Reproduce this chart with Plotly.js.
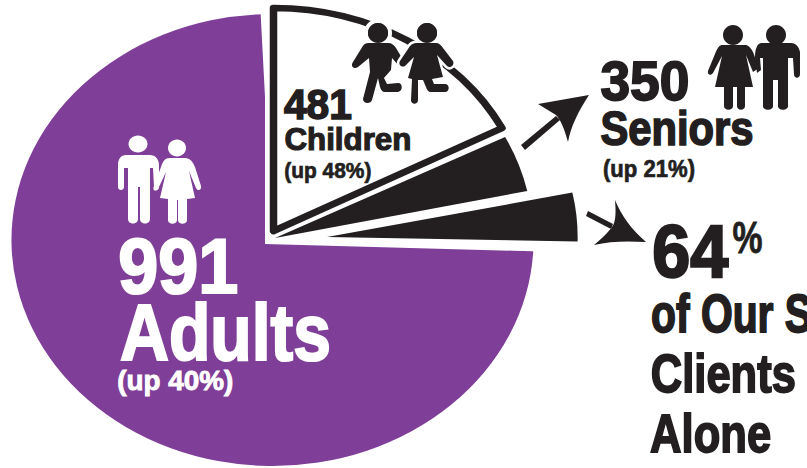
<!DOCTYPE html>
<html><head><meta charset="utf-8">
<script src="https://cdn.plot.ly/plotly-3.0.1.min.js"></script>
<style>html,body{margin:0;padding:0;background:#fff;overflow:hidden}#c{width:807px;height:468px}</style>
</head><body><div id="c"></div>
<script>
// Data
const categories = ['Adults','Children','Seniors','Senior clients'];
const counts = [991,481,350];
const rises = ['(up 40%)','(up 48%)','(up 21%)'];
const sharePct = [73.5,17.36,4.1,3.6];      // visible slice sweep, % of the full turn
const startDeg = [92.8,0,63.1,78.2];        // clockwise from 12 o'clock
const cutPct = 25.5;                        // white notch cut out of the purple disc

const W=807,H=468, ASPECT=1.155, K=1.3, TX=-100;
const SX=ASPECT*K, SY=K;
const PURPLE='#7f3f98', INK='#231f20';

function dom(cx,cy,ry){const r=ry/SY,u=(cx-TX)/SX,v=cy/SY;
  return {x:[(u-r)/W,(u+r)/W],y:[1-(v+r)/H,1-(v-r)/H]};}
function wedge(name,pct,rot,col,cx,cy,ry,lw,lc){
  return {type:'pie',name,labels:[name,' '],values:[pct,100-pct],sort:false,direction:'clockwise',rotation:rot,
    textinfo:'none',hoverinfo:'skip',showlegend:false,domain:dom(cx,cy,ry),
    marker:{colors:[col,'rgba(0,0,0,0)'],line:{color:[lc||col,'rgba(0,0,0,0)'],width:[lw||0,0]}}};}
const traces=[
  wedge(categories[0],sharePct[0],startDeg[0],PURPLE,272.5,240,226),
  wedge('notch',cutPct,0,'#ffffff',265,244,238),
  wedge(categories[1],sharePct[1],startDeg[1],'#ffffff',273.5,231,223,5,INK),
  wedge(categories[2],sharePct[2],startDeg[2],INK,275,238,223.4),
  wedge(categories[3],sharePct[3],startDeg[3],INK,327,237,217)
];

// px -> paper helper for decoration paths
const px=d=>d.replace(/(-?[\d.]+)[ ,]+(-?[\d.]+)/g,(m,a,b)=>(a/W).toFixed(5)+','+(1-b/H).toFixed(5));
function blob(d,col,halo){const out=[];
  if(halo)out.push({type:'path',xref:'paper',yref:'paper',layer:'above',path:px(d),fillcolor:'#fff',line:{color:'#fff',width:halo}});
  out.push({type:'path',xref:'paper',yref:'paper',layer:'above',path:px(d),fillcolor:col,line:{width:0}});return out;}
function headPath(x,y,a,b){const c=.5523;return `M${x-a} ${y} C${x-a} ${y-b*c} ${x-a*c} ${y-b} ${x} ${y-b} C${x+a*c} ${y-b} ${x+a} ${y-b*c} ${x+a} ${y} C${x+a} ${y+b*c} ${x+a*c} ${y+b} ${x} ${y+b} C${x-a*c} ${y+b} ${x-a} ${y+b*c} ${x-a} ${y} Z`;}

// Adults icon
const adultMan='M126 155 L150 155 C155 155 159 159 159 165 L159 187 C159 191 154 191 154 187 L153 168 L150 168 L150 219 C150 225 140 225 140 219 L140 187 L138 187 L138 219 C138 225 128 225 128 219 L128 168 L124 168 L124 187 C124 191 118 191 118 187 L118 165 C118 159 121 155 126 155 Z';
const adultWoman='M170 158 L185 158 C190 158 193 162 195 167 L201 186 C202 191 197 191 196 188 L189 171 L195 198 L187 199 L187 220 C187 225 178 225 178 220 L178 200 L177 200 L177 220 C177 225 168 225 168 220 L168 199 L160 198 L166 172 L158 189 C156 192 152 191 154 186 L161 167 C163 161 165 158 170 158 Z';
// Children icon
const boy='M368 43 L388 43 C392 43 394 45 396 48 L402 58 L403 63 L399 66 L392 58 L391 70 L384 78 L387 84 L398 83 C403 83 403 91 398 92 L385 92 C382 92 381 90 380 87 L378 78 L372 100 C371 104 363 104 363 99 L370 72 L369 58 L358 67 C354 70 350 66 353 62 L361 49 C363 45 365 43 368 43 Z';
const girl='M416 43 L436 43 C439 43 441 45 443 48 L453 61 C455 65 450 69 447 66 L437 55 L443 77 L432 79 L434 84 L445 84 C450 84 450 92 445 92 L431 92 C428 92 427 90 426 87 L423 80 L418 80 L418 100 C418 105 411 105 411 100 L412 79 L408 78 L414 57 L405 66 C401 68 398 64 400 61 L408 49 C410 45 413 43 416 43 Z';
// Seniors icon
const oldWoman='M722 45 L746 45 C750 46 752 50 753 52 L759 68 L753 72 L746 55 L753 87 L745 87 L745 106 C745 111 737 111 737 106 L737 87 L733 87 L733 106 C733 111 724 111 724 106 L724 87 L715 87 L722 56 L713 73 C711 76 707 75 708 71 L715 54 C717 49 719 45 722 45 Z';
const oldMan='M762 43 L791 43 C796 43 799 47 800 52 L800 74 C800 79 794 79 794 74 L793 58 L788 58 L788 106 C788 111 778 111 778 106 L778 80 L773 80 L773 106 C773 111 763 111 763 106 L763 58 L760 58 L761 70 L757 73 L755 58 C755 49 757 43 762 43 Z';
// Arrows
const arrow1='M521 145 L556 116 L560 120 L525 150 Z M589 95 L538 104 L556 115 C559 118 563 124 568 142 C571 126 578 112 589 95 Z';
const arrow2='M588 211 L613 224 L611 229 L586 216 Z M646 242 C632 230 621 215 615 200 C616 212 616 222 612 227 C607 234 600 240 594 245 C610 241 628 241 646 242 Z';

const shapes=[].concat(
  blob(adultMan,'#fff'),blob(adultWoman,'#fff'),blob(headPath(138,144,9.5,8.5),'#fff'),blob(headPath(177,148,9,8.5),'#fff'),
  blob(headPath(378,33,10,10),INK,8),blob(headPath(427,33,10,10),INK,8),
  blob(boy,INK,5),blob(girl,INK,5),blob(headPath(378,33,10,10),INK),blob(headPath(427,33,10,10),INK),
  blob(oldWoman,INK),blob(oldMan,INK),blob(headPath(733,35,10,10),INK),blob(headPath(776,35,10,10),INK),
  blob(arrow1,INK),blob(arrow2,INK)
);

// text: string, left, right, baseline, size, colour, stroke
const FONT='"Liberation Sans Narrow","Liberation Sans","DejaVu Sans Condensed",sans-serif';
const labels=[
  [String(counts[0]),118,238,293,77,'#fff',2.2],
  [categories[0],120,331,360,80,'#fff',2.2],
  [rises[0],117,233,390,28,'#fff',.9],
  [String(counts[1]),284,352,119,43,INK,1.6],
  [categories[1],284,411,150,32,INK,1.2],
  [rises[1],284,371,178,22,INK,.7],
  [String(counts[2]),600,689,100,55,INK,1.8],
  [categories[2],600,753,145,48,INK,1.7],
  [rises[2],603,695,177,24,INK,.7],
  ['64',652,728,277,74,INK,2.4],
  ['%',732,762,253,44,INK,.8],
  ['of Our S',651,812,332,53,INK,1.8],
  ['Clients',651,796,392,53,INK,1.8],
  ['Alone',650,771,452,53,INK,1.8]
];
const annotations=labels.map(l=>({text:'<b>'+l[0]+'</b>',xref:'paper',yref:'paper',x:(l[1]+l[2])/2/W,xanchor:'center',
  y:1-(l[3]+0.212*l[4])/H,yanchor:'bottom',showarrow:false,borderpad:0,borderwidth:0,
  font:{family:FONT,size:l[4],color:l[5]}}));

Plotly.newPlot('c',traces,{width:W,height:H,margin:{l:0,r:0,t:0,b:0,pad:0},paper_bgcolor:'#fff',showlegend:false,shapes,annotations},
  {displayModeBar:false,staticPlot:true}).then(gd=>{
  document.querySelectorAll('.pielayer').forEach(g=>g.setAttribute('transform',`translate(${TX},0) scale(${SX},${SY})`));
  document.querySelectorAll('.annotation-text').forEach((t,i)=>{const l=labels[i];if(!l)return;
    t.setAttribute('textLength',l[2]-l[1]);t.setAttribute('lengthAdjust','spacingAndGlyphs');
    if(l[6]){t.style.stroke=l[5];t.style.strokeWidth=l[6]+'px';}});
});
</script></body></html>
